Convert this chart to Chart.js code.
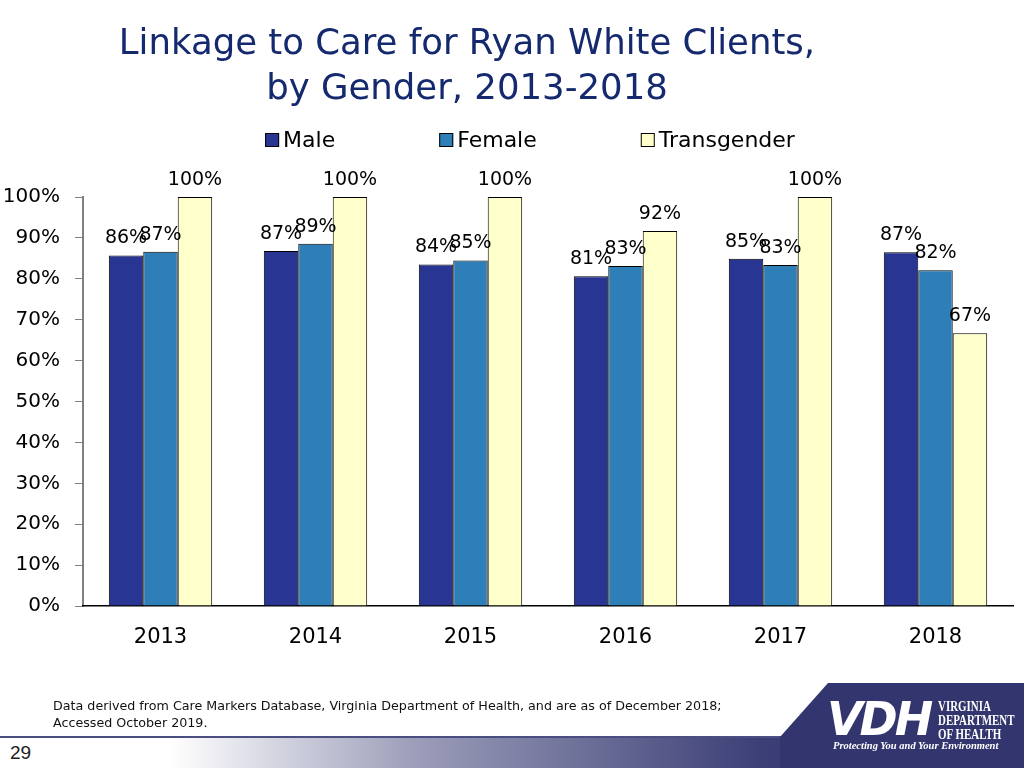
<!DOCTYPE html>
<html><head><meta charset="utf-8">
<script src="https://cdn.jsdelivr.net/npm/chart.js@4"></script>
<style>
html,body{margin:0;padding:0;background:#fff;}
#wrap{position:relative;width:1024px;height:768px;overflow:hidden;font-family:"DejaVu Sans",sans-serif;}
#c{position:absolute;left:0;top:0;}
.title{position:absolute;left:0;top:19px;width:934px;text-align:center;color:#14296e;font-size:35.5px;line-height:45px;white-space:nowrap;}
.foot{position:absolute;left:53px;top:697px;font-size:12.7px;line-height:17px;color:#111;white-space:nowrap;}
.bandline{position:absolute;left:0;top:736px;width:1024px;height:2px;background:#4a4e80;}
.band{position:absolute;left:0;top:738px;width:1024px;height:30px;background:linear-gradient(to right,#fff 0,#fff 170px,#9a9cb8 420px,#3c3f76 760px,#33366e 1024px);}
.logo{position:absolute;left:780px;top:683px;width:244px;height:85px;background:#33366e;clip-path:polygon(48px 0,244px 0,244px 85px,0 85px,0 54px);}
.vdh{position:absolute;left:827px;top:694px;color:#fff;font:italic bold 46px "DejaVu Sans",sans-serif;letter-spacing:-3px;line-height:50px;}
.vdht{position:absolute;left:938px;top:700px;color:#fff;font:bold 14px "Liberation Serif",serif;line-height:14px;transform:scaleX(0.78);transform-origin:0 0;white-space:nowrap;}
.prot{position:absolute;left:833px;top:740px;color:#fff;font:italic bold 10.5px "Liberation Serif",serif;white-space:nowrap;}
.page{position:absolute;left:10px;top:742px;font:19px "Liberation Sans",Arial,sans-serif;color:#222;}
</style></head>
<body><div id="wrap">
<canvas id="c" width="1024" height="768"></canvas>
<div class="title">Linkage to Care for Ryan White Clients,<br>by Gender, 2013-2018</div>
<div class="foot">Data derived from Care Markers Database, Virginia Department of Health, and are as of December 2018;<br>Accessed October 2019.</div>
<div class="bandline"></div>
<div class="band"></div>
<div class="logo"></div>
<div class="vdh">VDH</div>
<div class="vdht">VIRGINIA<br>DEPARTMENT<br>OF HEALTH</div>
<div class="prot">Protecting You and Your Environment</div>
<div class="page">29</div>
</div>
<script>
const categories = ['2013','2014','2015','2016','2017','2018'];
const seriesNames = ['Male','Female','Transgender'];
const maleValues = [85.7, 86.8, 83.5, 80.6, 84.9, 86.5];
const femaleValues = [86.6, 88.6, 84.5, 83.1, 83.4, 82.1];
const transValues = [100, 100, 100, 91.7, 100, 66.7];
const yMin = 0, yMax = 100, yStep = 10;

const FONT = '"DejaVu Sans",sans-serif';
const colors = ['#283593', '#2e7fb8', '#ffffcc'];

const valueLabels = {
  id: 'valueLabels',
  afterDatasetsDraw(chart) {
    const ctx = chart.ctx;
    ctx.save();
    ctx.font = '19px ' + FONT;
    ctx.fillStyle = '#000';
    ctx.textAlign = 'center';
    ctx.textBaseline = 'alphabetic';
    chart.data.datasets.forEach((ds, i) => {
      chart.getDatasetMeta(i).data.forEach((bar, j) => {
        ctx.fillText(Math.round(ds.data[j]) + '%', bar.x, bar.y - 12);
      });
    });
    ctx.restore();
  }
};

const customLegend = {
  id: 'customLegend',
  afterDraw(chart) {
    const ctx = chart.ctx;
    ctx.save();
    ctx.font = '22px ' + FONT;
    const box = 14, gapText = 4, gap = 104, cy = 140, centerX = 530;
    const items = chart.data.datasets.map(ds => ({ text: ds.label, color: ds.backgroundColor, w: box + gapText + ctx.measureText(ds.label).width }));
    const total = items.reduce((s, it) => s + it.w, 0) + gap * (items.length - 1);
    let x = centerX - total / 2;
    items.forEach(it => {
      ctx.fillStyle = it.color;
      ctx.fillRect(x, cy - box / 2, box, box);
      ctx.strokeStyle = '#000';
      ctx.lineWidth = 1;
      ctx.strokeRect(x + 0.5, cy - box / 2 + 0.5, box - 1, box - 1);
      ctx.fillStyle = '#000';
      ctx.textAlign = 'left';
      ctx.textBaseline = 'middle';
      ctx.fillText(it.text, x + box + gapText, cy + 1);
      x += it.w + gap;
    });
    ctx.restore();
  }
};

new Chart(document.getElementById('c'), {
  type: 'bar',
  data: {
    labels: categories,
    datasets: [
      { label: seriesNames[0], data: maleValues, backgroundColor: colors[0] },
      { label: seriesNames[1], data: femaleValues, backgroundColor: colors[1] },
      { label: seriesNames[2], data: transValues, backgroundColor: colors[2] }
    ].map(d => Object.assign(d, { borderColor: '#000', borderWidth: 1, borderSkipped: 'bottom', categoryPercentage: 0.667, barPercentage: 1.0 }))
  },
  options: {
    responsive: false,
    devicePixelRatio: 1,
    animation: false,
    layout: { padding: { top: 197, left: 0, right: 11, bottom: 0 } },
    plugins: { legend: { display: false }, title: { display: false }, tooltip: { enabled: false } },
    scales: {
      y: {
        min: yMin, max: yMax,
        ticks: { stepSize: yStep, callback: v => v + '%', color: '#000', font: { family: FONT, size: 20 }, padding: 15 },
        grid: { drawOnChartArea: false, drawTicks: true, tickLength: 8, color: '#808080', lineWidth: 1 },
        border: { color: '#808080', width: 2 },
        afterFit: s => { s.width = 83; }
      },
      x: {
        ticks: { color: '#000', font: { family: FONT, size: 21 }, padding: 19 },
        grid: { drawOnChartArea: false, drawTicks: false },
        border: { color: '#000', width: 1.5 },
        afterFit: s => { s.height = 162; }
      }
    }
  },
  plugins: [valueLabels, customLegend]
});
</script>
</body></html>
